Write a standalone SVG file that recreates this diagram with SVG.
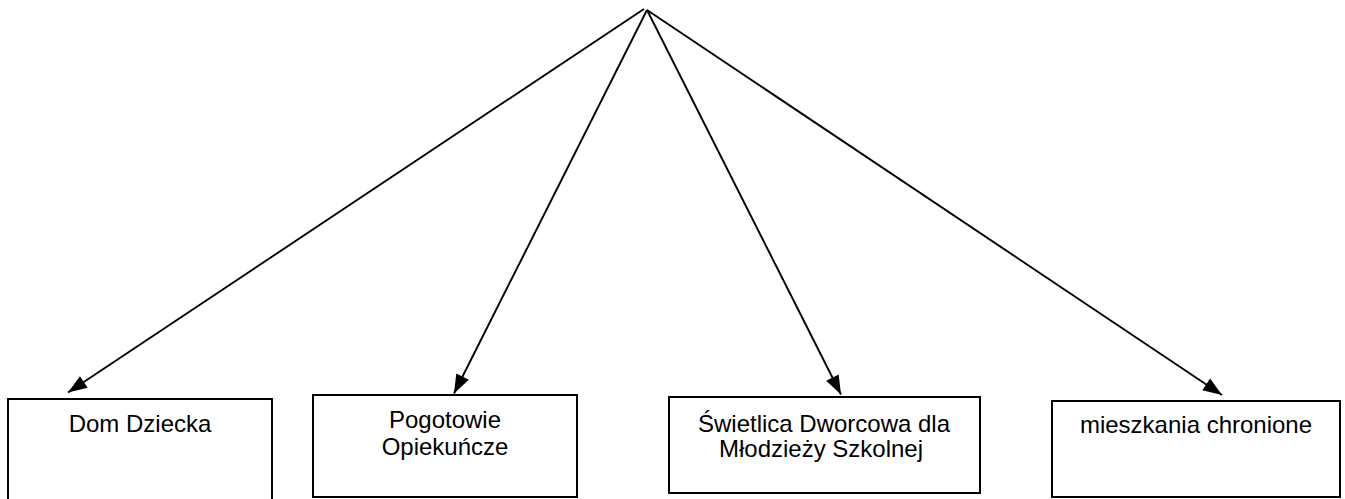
<svg xmlns="http://www.w3.org/2000/svg" width="1345" height="499" viewBox="0 0 1345 499">
<style>
.box{fill:#fff;stroke:#000;stroke-width:2}
.lbl{font-family:"Liberation Sans",Arial,sans-serif;font-size:24px;fill:#000;text-anchor:middle}
.conn{stroke:#000;stroke-width:1.9;fill:none;marker-end:url(#ah)}
</style>
<defs>
<marker id="ah" markerUnits="userSpaceOnUse" markerWidth="24" markerHeight="18" viewBox="-22 -9 24 18" refX="0" refY="0" orient="auto">
<path d="M0,0 L-19,-7 L-19,7 Z" fill="#000"/>
</marker>
</defs>
<rect width="1345" height="499" fill="#fff"/>
<g id="connectors">
<line class="conn" x1="644" y1="9" x2="68" y2="392.5"/>
<line class="conn" x1="647" y1="10" x2="454" y2="393.5"/>
<line class="conn" x1="647" y1="10" x2="841" y2="394.5"/>
<line class="conn" x1="647" y1="10" x2="1222" y2="395"/>
</g>
<g id="n1">
<rect class="box" x="8" y="399" width="264" height="104"/>
<text class="lbl" x="140" y="432">Dom Dziecka</text>
</g>
<g id="n2">
<rect class="box" x="313" y="395" width="264" height="102"/>
<text class="lbl" x="445" y="428">Pogotowie</text>
<text class="lbl" x="445" y="455">Opiekuńcze</text>
</g>
<g id="n3">
<rect class="box" x="669" y="397" width="311" height="96"/>
<text class="lbl" x="824" y="432">Świetlica Dworcowa dla</text>
<text class="lbl" x="821" y="457">Młodzieży Szkolnej</text>
</g>
<g id="n4">
<rect class="box" x="1052" y="401" width="288" height="96"/>
<text class="lbl" x="1196" y="433">mieszkania chronione</text>
</g>
</svg>
